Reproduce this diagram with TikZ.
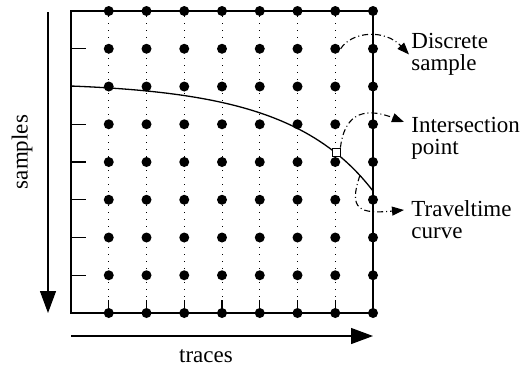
\documentclass[tikz,border=0pt]{standalone}
\usepackage{fontspec}
\setmainfont{LiberationSerif-Regular.ttf}
\usetikzlibrary{arrows.meta,calc}
\tikzset{
  sample/.style={circle, fill=black, minimum size=5pt, inner sep=0pt},
  frame/.style={line width=0.65pt},
  gridline/.style={line width=0.5pt, dash pattern=on 0.5pt off 3pt},
  ttcurve/.style={line width=0.65pt},
  ipoint/.style={draw, fill=white, line width=0.4pt, minimum size=4pt, inner sep=0pt},
  axisarrow/.style={-{Triangle[length=11pt,width=8pt]}, line width=0.6pt},
  callout/.style={-{Triangle[length=6pt,width=4.5pt]}, line width=0.55pt, dash pattern=on 3pt off 1.5pt on 0.5pt off 1.5pt},
  lbl/.style={font=\fontsize{11.5}{11}\selectfont, align=left, inner sep=0pt, anchor=north west},
  axislbl/.style={font=\fontsize{11.5}{11}\selectfont, inner sep=0pt}
}

\begin{document}
\begin{tikzpicture}[x=0.5pt,y=-0.5pt]
  \useasboundingbox (0,0) rectangle (524,372);
  \coordinate (nw) at (71,11); \coordinate (ne) at (373,11);
  \coordinate (sw) at (71,313); \coordinate (se) at (373,313);
  % samples on the grid
  \foreach \c in {1,...,8}
    \foreach \r in {0,...,8}
      \node[sample] (d-\c-\r) at (71+37.75*\c, 11+37.75*\r) {};
  \foreach \c in {1,...,7} {
    \draw[gridline] (d-\c-0) -- (d-\c-8);
    \draw[frame] (d-\c-8.center) -- ++(0,-13);
  }
  \foreach \r in {1,...,7}
    \draw[frame] (71, 11+37.75*\r) -- ++(15,0);
  \draw[frame] (nw) -- (ne) -- (se) -- (sw) -- cycle;

  % traveltime curve
  \coordinate (t0) at (71,86); \coordinate (t1) at (373,191);
  \draw[ttcurve] (t0) .. controls (221,92) and (313,113) .. (t1) coordinate[pos=0.93] (tc);
  \node[ipoint] (ipt) at (336,152) {};

  \node[lbl] (disc) at (411,33) {Discrete\\sample};
  \node[lbl] (inter) at (411,117) {Intersection\\point};
  \node[lbl] (trav) at (411,200) {Traveltime\\curve};
  \draw[callout] (d-7-1.east) .. controls (352,31) and (385,29) .. ([xshift=-1pt]disc.west);
  \draw[callout] (ipt.north east) .. controls (344,118) and (360,105) .. ([xshift=-3.5pt,yshift=-2.5pt]inter.north west);
  \draw[callout] (tc) .. controls (348,210) and (360,214) .. ([xshift=-3.5pt,yshift=-5pt]trav.north west);

  % axes
  \coordinate (sa) at (48,12); \coordinate (sb) at (48,313);
  \coordinate (ta) at (71,336); \coordinate (tb) at (373,336);
  \draw[axisarrow] (sa) -- (sb);
  \draw[axisarrow] (ta) -- (tb);
  \node[axislbl, rotate=90] (samp) at (22,152) {samples};
  \node[axislbl] (trc) at (206,356) {traces};
\end{tikzpicture}
\end{document}
